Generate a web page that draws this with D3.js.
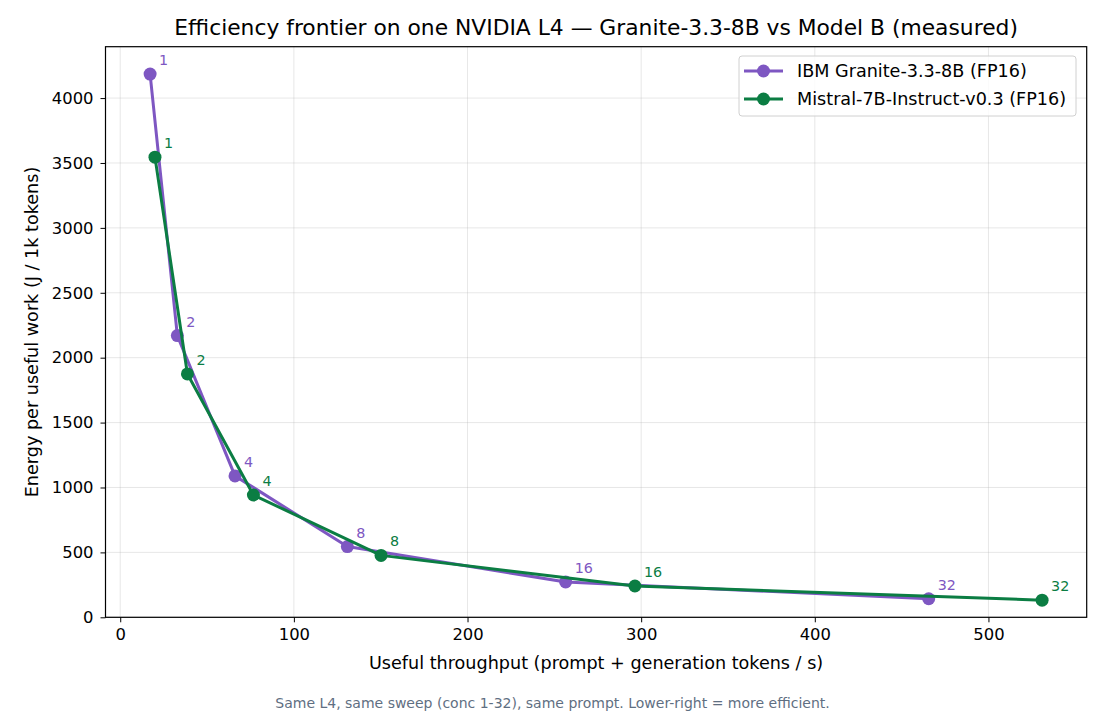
<!DOCTYPE html>
<html><head><meta charset="utf-8">
<script src="https://cdn.jsdelivr.net/npm/d3@7"></script>
<style>
body{margin:0;background:#fff;}
text{font-family:"DejaVu Sans",sans-serif;}
</style></head>
<body>
<svg id="c" width="1105" height="715"></svg>
<script>
const concLevels = [1, 2, 4, 8, 16, 32];
const graniteX = [17.2, 32.9, 66.1, 130.8, 256.5, 465.6];
const graniteY = [4185, 2170, 1089, 545, 272, 143];
const mistralX = [20.0, 38.7, 76.7, 150.2, 296.4, 530.9];
const mistralY = [3545, 1875, 942, 477, 241, 132];
const xTicks = [0, 100, 200, 300, 400, 500];
const yTicks = [0, 500, 1000, 1500, 2000, 2500, 3000, 3500, 4000];
const seriesNames = ["IBM Granite-3.3-8B (FP16)", "Mistral-7B-Instruct-v0.3 (FP16)"];
const seriesColors = ["#7e57c2", "#0b7d43"];

const series = [
  {name: seriesNames[0], color: seriesColors[0], pts: graniteX.map((x,i)=>({x, y: graniteY[i], c: concLevels[i]}))},
  {name: seriesNames[1], color: seriesColors[1], pts: mistralX.map((x,i)=>({x, y: mistralY[i], c: concLevels[i]}))}
];

const svg = d3.select("#c");
const L = 105.5, R = 1086.7, T = 46.7, B = 617.3;
const allX = graniteX.concat(mistralX), allY = graniteY.concat(mistralY);
const xmin = d3.min(allX), xmax = d3.max(allX);
const xr = xmax - xmin;
const ymax = d3.max(allY), ymin = d3.min(allY);
const x = d3.scaleLinear().domain([xmin - 0.05*xr, xmax + 0.05*xr]).range([L, R]);
const y = d3.scaleLinear().domain([0, ymax + 0.052*(ymax - ymin)]).range([B, T]);

// grid
const g = svg.append("g");
g.selectAll(".gx").data(xTicks).join("line")
  .attr("x1", d=>x(d)).attr("x2", d=>x(d)).attr("y1", T).attr("y2", B)
  .attr("stroke", "#b0b0b0").attr("stroke-opacity", 0.3).attr("stroke-width", 1);
g.selectAll(".gy").data(yTicks).join("line")
  .attr("y1", d=>y(d)).attr("y2", d=>y(d)).attr("x1", L).attr("x2", R)
  .attr("stroke", "#b0b0b0").attr("stroke-opacity", 0.3).attr("stroke-width", 1);

// axes
const xAxis = d3.axisBottom(x).tickValues(xTicks).tickSize(5).tickPadding(6).tickFormat(d3.format("d"));
const yAxis = d3.axisLeft(y).tickValues(yTicks).tickSize(5).tickPadding(7).tickFormat(d3.format("d"));
const ax = svg.append("g").attr("transform", `translate(0,${B})`).call(xAxis);
const ay = svg.append("g").attr("transform", `translate(${L},0)`).call(yAxis);
[ax, ay].forEach(a => {
  a.select(".domain").remove();
  a.selectAll("line").attr("stroke", "#000").attr("stroke-width", 1);
  a.selectAll("text").attr("font-size", 16.4).attr("fill", "#000").style("font-family", "DejaVu Sans");
});

// frame
svg.append("rect").attr("x", L).attr("y", T).attr("width", R-L).attr("height", B-T)
  .attr("fill", "none").attr("stroke", "#000").attr("stroke-width", 1.2);

// lines & points
const line = d3.line().x(d=>x(d.x)).y(d=>y(d.y));
series.forEach(s => {
  const sg = svg.append("g");
  sg.append("path").datum(s.pts).attr("d", line).attr("fill", "none")
    .attr("stroke", s.color).attr("stroke-width", 3).attr("stroke-linejoin", "round");
  sg.selectAll("circle").data(s.pts).join("circle")
    .attr("cx", d=>x(d.x)).attr("cy", d=>y(d.y)).attr("r", 6.5).attr("fill", s.color);
  sg.selectAll("text").data(s.pts).join("text")
    .attr("x", d=>x(d.x)+9).attr("y", d=>y(d.y)-9)
    .attr("font-size", 14.3).attr("fill", s.color).text(d=>d.c);
});

// legend
const lg = svg.append("g");
lg.append("rect").attr("x", 739).attr("y", 56).attr("width", 337).attr("height", 60).attr("rx", 3)
  .attr("fill", "#fff").attr("fill-opacity", 0.8).attr("stroke", "#d0d0d0");
series.forEach((s, i) => {
  const yy = 71 + i*28;
  lg.append("line").attr("x1", 744).attr("x2", 783).attr("y1", yy).attr("y2", yy)
    .attr("stroke", s.color).attr("stroke-width", 3);
  lg.append("circle").attr("cx", 763.5).attr("cy", yy).attr("r", 6.5).attr("fill", s.color);
  lg.append("text").attr("x", 797).attr("y", yy).attr("dy", "0.36em")
    .attr("font-size", 17.6).attr("fill", "#000").text(s.name);
});

// titles
svg.append("text").attr("x", (L+R)/2).attr("y", 35).attr("text-anchor", "middle")
  .attr("font-size", 21.8).attr("fill", "#000")
  .text("Efficiency frontier on one NVIDIA L4 — Granite-3.3-8B vs Model B (measured)");
svg.append("text").attr("x", (L+R)/2).attr("y", 669).attr("text-anchor", "middle")
  .attr("font-size", 17.6).attr("fill", "#000")
  .text("Useful throughput (prompt + generation tokens / s)");
svg.append("text").attr("transform", `translate(38,${(T+B)/2}) rotate(-90)`).attr("text-anchor", "middle")
  .attr("font-size", 17.6).attr("fill", "#000")
  .text("Energy per useful work (J / 1k tokens)");
svg.append("text").attr("x", 552.5).attr("y", 708).attr("text-anchor", "middle")
  .attr("font-size", 14).attr("fill", "#5f6f82")
  .text("Same L4, same sweep (conc 1-32), same prompt. Lower-right = more efficient.");
</script>
</body></html>
